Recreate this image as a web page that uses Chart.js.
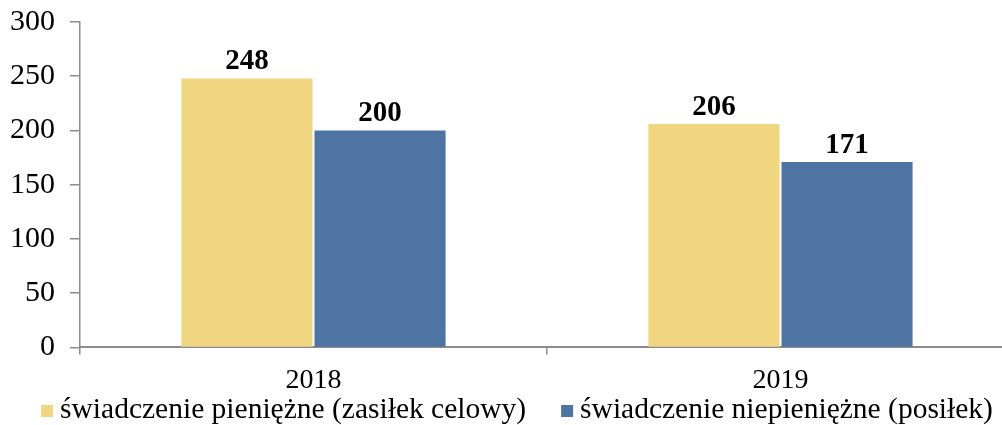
<!DOCTYPE html>
<html>
<head>
<meta charset="utf-8">
<script src="https://cdn.jsdelivr.net/npm/chart.js@4/dist/chart.umd.min.js"></script>
<style>
  html, body { margin: 0; padding: 0; background: #fff; overflow: hidden; }
  #wrap { width: 1014px; height: 425px; }
</style>
</head>
<body>
<div id="wrap"><canvas id="benefitsChart" width="1014" height="425"></canvas></div>
<script>
// Years and number of benefits per type
const years = ['2018', '2019'];
const cashBenefit = [248, 206];
const nonCashBenefit = [200, 171];
const seriesNames = ['świadczenie pieniężne (zasiłek celowy)', 'świadczenie niepieniężne (posiłek)'];
const seriesColors = ['#F0D680', '#4E74A3'];
const yTicks = [0, 50, 100, 150, 200, 250, 300];

const serif = "'Liberation Serif', 'Times New Roman', serif";

// Bold value printed above each bar
const barValues = {
  id: 'barValues',
  afterDatasetsDraw(chart) {
    const c = chart.ctx;
    c.save();
    c.font = 'bold 29px ' + serif;
    c.fillStyle = '#000';
    c.textAlign = 'center';
    c.textBaseline = 'alphabetic';
    chart.data.datasets.forEach((ds, i) => {
      chart.getDatasetMeta(i).data.forEach((bar, j) => {
        c.fillText(ds.data[j], bar.x, bar.y - 9);
      });
    });
    c.restore();
  }
};

// Legend row under the axis: small square, then the series name
const bottomLegend = {
  id: 'bottomLegend',
  afterDraw(chart) {
    const c = chart.ctx;
    const box = 12, gap = 7, itemGap = 35;
    c.save();
    c.font = '29.5px ' + serif;
    c.textBaseline = 'alphabetic';
    const widths = chart.data.datasets.map(ds => c.measureText(ds.label).width);
    let total = 0;
    widths.forEach((w, i) => { total += box + gap + w + (i ? itemGap : 0); });
    let x = chart.width / 2 + 10 - total / 2;
    const baseY = chart.height - 7;
    chart.data.datasets.forEach((ds, i) => {
      c.fillStyle = ds.backgroundColor;
      c.fillRect(x, baseY - 13, box, box);
      c.fillStyle = '#000';
      c.fillText(ds.label, x + box + gap, baseY);
      x += box + gap + widths[i] + itemGap;
    });
    c.restore();
  }
};

const ctx = document.getElementById('benefitsChart').getContext('2d');
const benefitsChart = new Chart(ctx, {
  type: 'bar',
  data: {
    labels: years,
    datasets: [{
      label: seriesNames[0],
      data: cashBenefit,
      backgroundColor: seriesColors[0],
      borderWidth: 0
    }, {
      label: seriesNames[1],
      data: nonCashBenefit,
      backgroundColor: seriesColors[1],
      borderWidth: 0
    }]
  },
  options: {
    responsive: false,
    animation: false,
    layout: { padding: { top: 22, right: 0, left: 10, bottom: 19 } },
    datasets: {
      bar: { categoryPercentage: 0.57, barPercentage: 0.985 }
    },
    plugins: {
      tooltip: { enabled: false },
      legend: { display: false }
    },
    scales: {
      x: {
        border: { color: '#8c8c8c', width: 2 },
        grid: { offset: true, drawOnChartArea: false, drawTicks: true, tickLength: 7, color: '#8c8c8c', lineWidth: 1.5 },
        ticks: { font: { family: serif, size: 28 }, color: '#000', padding: 9 }
      },
      y: {
        min: 0,
        max: 300,
        afterBuildTicks(axis) { axis.ticks = yTicks.map(v => ({ value: v })); },
        // fixed axis width, top label allowed to reach into the padding
        afterFit(axis) { axis.width = 70; axis.paddingTop = 0; },
        border: { color: '#8c8c8c', width: 1.5 },
        grid: { drawOnChartArea: false, drawTicks: true, tickLength: 10, color: '#8c8c8c', lineWidth: 1.5 },
        ticks: { font: { family: serif, size: 30 }, color: '#000', padding: 15 }
      }
    }
  },
  plugins: [barValues, bottomLegend]
});
</script>
</body>
</html>
